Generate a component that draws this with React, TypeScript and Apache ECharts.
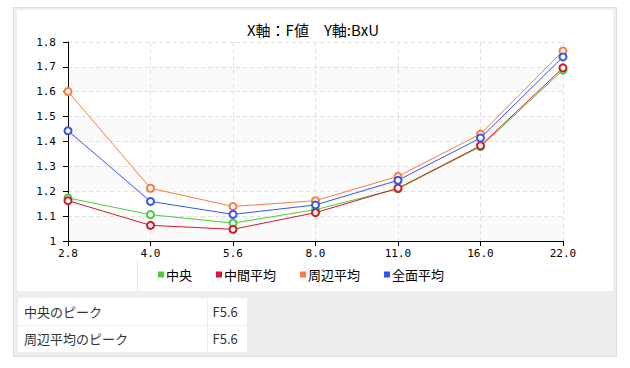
import React, { useEffect, useRef } from "react";
import * as echarts from "echarts";

const categories = ["2.8", "4.0", "5.6", "8.0", "11.0", "16.0", "22.0"];
const seriesNames = ["中央", "中間平均", "周辺平均", "全面平均"];
const centerValues = [1.173, 1.106, 1.072, 1.126, 1.21, 1.379, 1.687];
const midAvgValues = [1.162, 1.063, 1.047, 1.114, 1.212, 1.383, 1.696];
const edgeAvgValues = [1.601, 1.212, 1.139, 1.162, 1.26, 1.43, 1.764];
const allAvgValues = [1.443, 1.159, 1.107, 1.145, 1.244, 1.414, 1.74];
const seriesColors = ["#4ccc3a", "#d41a2a", "#ff7a3a", "#3355f0"];
const yTicks = { min: 1, max: 1.8, interval: 0.1 };
const titleText = "X軸：F値　Y軸:BxU";
const tableRows = [
  ["中央のピーク", "F5.6"],
  ["周辺平均のピーク", "F5.6"],
];

const cjk = '"Noto Sans CJK JP", "Noto Sans", sans-serif';
const mono = '"DejaVu Sans Mono", "Liberation Mono", monospace';

export default function App() {
  const ref = useRef<HTMLDivElement>(null);

  useEffect(() => {
    document.body.style.margin = "0";
    const chart = echarts.init(ref.current!, undefined, { renderer: "svg" });
    const values = [centerValues, midAvgValues, edgeAvgValues, allAvgValues];
    chart.setOption({
      animation: false,
      backgroundColor: "transparent",
      title: {
        text: titleText,
        left: 242,
        top: 17,
        textStyle: { fontFamily: cjk, fontSize: 15, fontWeight: "normal", color: "#000" },
      },
      legend: {
        data: seriesNames,
        left: 153,
        top: 263,
        icon: "rect",
        itemWidth: 6,
        itemHeight: 6,
        itemGap: 24,
        textStyle: { fontFamily: cjk, fontSize: 13, color: "#000", padding: [0, 0, 0, -3] },
      },
      grid: { left: 68, right: 67, top: 42, bottom: 127, containLabel: false },
      xAxis: {
        type: "category",
        data: categories,
        boundaryGap: false,
        axisLine: { lineStyle: { color: "#000", width: 1 } },
        axisTick: { show: true, length: 5, alignWithLabel: true, lineStyle: { color: "#000" } },
        axisLabel: { fontFamily: mono, fontSize: 11, color: "#000", margin: 7 },
        splitLine: { show: true, lineStyle: { color: "#e0e0e0", type: [4, 3] } },
      },
      yAxis: {
        type: "value",
        min: yTicks.min,
        max: yTicks.max,
        interval: yTicks.interval,
        axisLine: { show: true, lineStyle: { color: "#000", width: 1 } },
        axisTick: { show: true, length: 5, lineStyle: { color: "#000" } },
        axisLabel: { fontFamily: mono, fontSize: 11, color: "#000", margin: 12 },
        splitLine: { show: true, lineStyle: { color: "#e0e0e0", type: [4, 3] } },
        splitArea: { show: true, areaStyle: { color: ["#fafafa", "#ffffff"] } },
      },
      series: seriesNames.map((name, i) => ({
        name,
        type: "line",
        data: values[i],
        symbol: "emptyCircle",
        symbolSize: 7,
        color: seriesColors[i],
        lineStyle: { width: 1, color: seriesColors[i] },
        itemStyle: { color: seriesColors[i], borderWidth: 1 },
      })),
    });
    return () => chart.dispose();
  }, []);

  return (
    <div style={{ position: "absolute", left: 0, top: 0, width: 630, height: 368, background: "#fff", fontFamily: cjk }}>
      <div
        style={{
          position: "absolute",
          left: 13,
          top: 7,
          width: 602,
          height: 348,
          background: "#eeeeee",
          border: "1px solid #dedede",
        }}
      />
      <div style={{ position: "absolute", left: 17, top: 10, width: 596, height: 281, background: "#fff" }} />
      <div style={{ position: "absolute", left: 137, top: 262, width: 1, height: 29, background: "#e6e6e6" }} />
      <table
        style={{
          position: "absolute",
          left: 18,
          top: 298,
          borderCollapse: "collapse",
          fontSize: 13,
          color: "#333",
          fontFamily: cjk,
        }}
      >
        <tbody>
          {tableRows.map((r, i) => (
            <tr key={i} style={{ height: 27 }}>
              <td style={{ width: 189, boxSizing: "border-box", background: "#fff", padding: "0 0 0 6px", borderBottom: i === 0 ? "1px solid #eeeeee" : "none", borderRight: "1px solid #eeeeee" }}>{r[0]}</td>
              <td style={{ width: 40, boxSizing: "border-box", background: "#fff", padding: "0 0 0 5px", borderBottom: i === 0 ? "1px solid #eeeeee" : "none" }}>{r[1]}</td>
            </tr>
          ))}
        </tbody>
      </table>
      <div ref={ref} style={{ position: "absolute", left: 0, top: 0, width: 630, height: 368 }} />
    </div>
  );
}
